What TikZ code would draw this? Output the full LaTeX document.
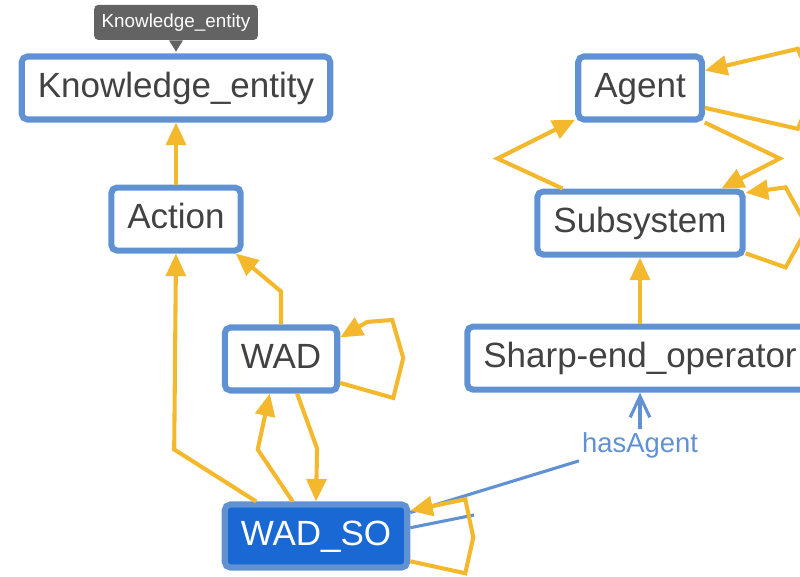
\documentclass[tikz,border=0pt]{standalone}
\usepackage{fontspec}
\setmainfont{Liberation Sans}
\usetikzlibrary{arrows.meta,positioning}

\definecolor{boxblue}{RGB}{96,146,211}
\definecolor{selblue}{RGB}{26,104,211}
\definecolor{edgeorange}{RGB}{244,184,45}
\definecolor{labelgray}{RGB}{66,66,66}
\definecolor{tipgray}{RGB}{99,99,99}

\tikzset{
  class/.style={draw=boxblue, line width=4.3pt, fill=white, rounded corners=4pt,
    inner xsep=11.4pt, minimum height=44.8pt, text=labelgray,
    text height=18pt, text depth=5pt,
    font=\fontsize{24.9}{30}\selectfont},
  selected/.style={class, fill=selblue, text=white},
  subclass/.style={draw=edgeorange, line width=2.9pt,
    -{Triangle[length=16pt,width=14pt]}},
  property/.style={draw=boxblue, line width=2.2pt},
  proplabel/.style={text=boxblue, inner sep=2pt,
    font=\fontsize{19.5}{23}\selectfont},
  tooltip/.style={fill=tipgray, rounded corners=3pt, text=white,
    inner xsep=5.3pt, minimum height=25pt,
    font=\fontsize{13.4}{16}\selectfont}
}

\begin{document}
\begin{tikzpicture}[x=0.025cm, y=-0.025cm]
\useasboundingbox (0,0) rectangle (800,577);

% classes
\node[class]    (ke)        at (176,88)                {Knowledge\_entity};
\node[class]    (action)    [below=1.55cm of ke]       {Action};
\node[class]    (wad)       at (281,359)               {WAD};
\node[selected] (wadso)     at (316,536)               {WAD\_SO};
\node[class]    (agent)     at (640,88)                {Agent};
\node[class]    (subsystem) [below=1.65cm of agent]    {Subsystem};
\node[class]    (sharp)     [below=1.65cm of subsystem] {Sharp-end\_operator};

% hover tip
\node[tooltip]  (tip)       [above=0.33cm of ke]       {Knowledge\_entity};
\fill[tipgray] ([xshift=-5pt]tip.south) -- ([xshift=5pt]tip.south)
  -- ([yshift=-8pt]tip.south) -- cycle;

% object property
\node[proplabel] (hasagent) at (640,445) {hasAgent};
\coordinate (stub) at (474,515);
\draw[property, -{Straight Barb[length=15pt,width=14pt]}] (hasagent) -- (sharp);
\draw[property] (hasagent.south west) -- (wadso.14);
\draw[property] (wadso.5) -- (stub);

% subclass links
\draw[subclass] (action) -- (ke);
\draw[subclass] (wad.north) -- ++(0,-33) -- (action.-30);
\draw[subclass] (wadso.150) -- ++(-82,-52) -- (action.south);
\draw[subclass] (wadso.124) -- ++(-35,-52) -- (wad.-108);
\draw[subclass] (wad.-65) -- ++(20,55) -- (wadso.north);
\draw[subclass] (wad.-22) -- ++(53,15) -- ++(10,-40) -- ++(-11,-38) -- ++(-25,2) -- (wad.20);
\draw[subclass] (agent.-17) -- ++(93,21) -- ++(17,-40) -- ++(-17,-40) -- (agent.15);
\draw[subclass] (agent.south east) -- ++(75,36) -- (subsystem.23);
\draw[subclass] (subsystem.156) -- ++(-65,-30) -- (agent.206);
\draw[subclass] (subsystem.-16) -- ++(40,14) -- ++(22,-40) -- ++(-22,-40) -- (subsystem.16);
\draw[subclass] (sharp) -- (subsystem);
\draw[subclass] (wadso.-15) -- ++(55,12) -- ++(8,-36) -- ++(-8,-38) -- (wadso.15);
\end{tikzpicture}
\end{document}
